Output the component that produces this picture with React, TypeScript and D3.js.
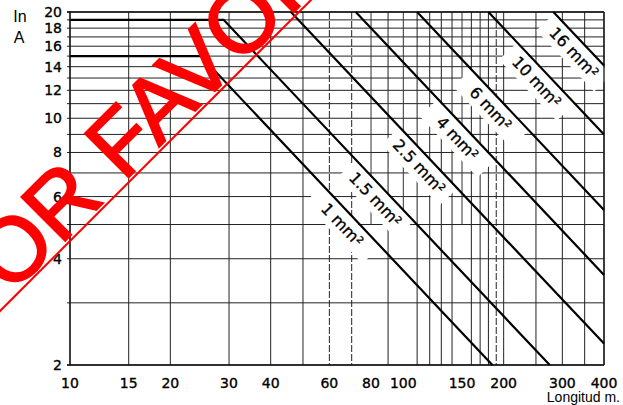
import React from "react";
import * as d3 from "d3";

const W = 623;
const H = 405;

// Axis ticks and grid
const currentTicks = [2, 4, 6, 8, 10, 12, 14, 16, 18, 20];
const currentGrid = [2, 3, 4, 5, 6, 7, 8, 9, 10, 11, 12, 13, 14, 15, 16, 17, 18, 19, 20];
const lengthTicks = [10, 15, 20, 30, 40, 60, 80, 100, 150, 200, 300, 400];
const lengthGrid = [10, 15, 20, 30, 40, 50, 60, 70, 90, 110, 120, 130, 140, 160, 170, 180, 190, 200, 250, 300, 350, 400];
const lengthGridDashed = [60, 70, 190];
const lengthGridUpper = [80, 100, 150];

// Cable sections (mm²) and their limit lines (length in m, current in A)
const sections = ["1", "1.5", "2.5", "4", "6", "10", "16"];
const sectionLengths = [
  [10, 24.7, 185],
  [10, 28.9, 275],
  [46, 400],
  [72, 400],
  [110, 400],
  [180, 400],
  [282, 400],
];
const sectionCurrents = [
  [15, 15, 2],
  [19, 19, 2],
  [20, 2.3],
  [20, 3.6],
  [20, 5.5],
  [20, 9],
  [20, 14.1],
];
// Length (m) along each line where its label sits
const labelAt = [70, 88, 119, 155, 195, 268, 347];

const x = d3.scaleLog().domain([10, 400]).range([70, 604]);
const y = d3.scaleLog().domain([2, 20]).range([365, 12]);

const tickFont = "DejaVu Sans, Verdana, sans-serif";

function pointOnLine(i: number, L: number) {
  const ls = sectionLengths[i];
  const cs = sectionCurrents[i];
  const n = ls.length;
  const L1 = ls[n - 2], L2 = ls[n - 1];
  const I1 = cs[n - 2], I2 = cs[n - 1];
  const t = Math.log(L / L1) / Math.log(L2 / L1);
  const I = Math.exp(Math.log(I1) + t * Math.log(I2 / I1));
  const px = x(L), py = y(I);
  const dx = x(L2) - x(L1);
  const dy = y(I2) - y(I1);
  const len = Math.hypot(dx, dy);
  return { px, py, ux: dx / len, uy: dy / len };
}

export default function App() {
  const line = d3
    .line<[number, number]>()
    .x((d) => x(d[0]))
    .y((d) => y(d[1]));

  const labels = sections.map((s, i) => {
    const { px, py, ux, uy } = pointOnLine(i, labelAt[i]);
    const off = 13;
    const cx = px - uy * off;
    const cy = py + ux * off;
    const ang = (Math.atan2(uy, ux) * 180) / Math.PI;
    return { s, cx, cy, ang };
  });

  return (
    <svg
      width={W}
      height={H}
      viewBox={`0 0 ${W} ${H}`}
      style={{ position: "absolute", left: 0, top: 0, background: "#fff", display: "block" }}
    >
      <rect width={W} height={H} fill="#fff" />

      {/* horizontal grid */}
      {currentGrid.map((v) => (
        <line key={"h" + v} x1={67} x2={x(400)} y1={y(v)} y2={y(v)} stroke="#222" strokeWidth={1} />
      ))}

      {/* vertical grid */}
      {lengthGrid.map((v) => (
        <line
          key={"v" + v}
          x1={x(v)}
          x2={x(v)}
          y1={y(20)}
          y2={y(2)}
          stroke="#222"
          strokeWidth={1}
          strokeDasharray={lengthGridDashed.includes(v) ? "7 2" : undefined}
        />
      ))}
      {lengthGridUpper.map((v) => (
        <line key={"vu" + v} x1={x(v)} x2={x(v)} y1={y(20)} y2={y(5)} stroke="#333" strokeWidth={1} />
      ))}

      {/* label halos */}
      {labels.map((l) => (
        <rect
          key={"halo" + l.s}
          x={-42}
          y={-12}
          width={84}
          height={24}
          fill="#fff"
          transform={`translate(${l.cx},${l.cy}) rotate(${l.ang})`}
        />
      ))}

      {/* axes frame */}
      <line x1={x(10)} x2={x(10)} y1={y(20)} y2={y(2)} stroke="#111" strokeWidth={1.3} />
      <line x1={x(400)} x2={x(400)} y1={y(20)} y2={y(2)} stroke="#111" strokeWidth={1.3} />
      <line x1={67} x2={x(400)} y1={y(2)} y2={y(2)} stroke="#111" strokeWidth={1.5} />
      <line x1={67} x2={x(400)} y1={y(20)} y2={y(20)} stroke="#111" strokeWidth={1.3} />

      {/* section lines */}
      {sections.map((s, i) => (
        <path
          key={"c" + s}
          d={line(sectionLengths[i].map((L, j) => [L, sectionCurrents[i][j]] as [number, number])) || ""}
          fill="none"
          stroke="#000"
          strokeWidth={2.2}
        />
      ))}

      {/* section labels */}
      {labels.map((l) => (
        <text
          key={"t" + l.s}
          transform={`translate(${l.cx},${l.cy}) rotate(${l.ang})`}
          textAnchor="middle"
          dominantBaseline="central"
          fontFamily={tickFont}
          fontSize={16}
          fill="#000"
          stroke="#000"
          strokeWidth={0.3}
        >
          {l.s} mm²
        </text>
      ))}

      {/* y tick labels */}
      {currentTicks.map((v) => (
        <text
          key={"yt" + v}
          x={62}
          y={y(v)}
          textAnchor="end"
          dominantBaseline="central"
          fontFamily={tickFont}
          fontSize={14}
          fill="#000"
          stroke="#000"
          strokeWidth={0.35}
        >
          {v}
        </text>
      ))}

      {/* x tick labels */}
      {lengthTicks.map((v) => (
        <text
          key={"xt" + v}
          x={x(v)}
          y={388}
          textAnchor="middle"
          fontFamily={tickFont}
          fontSize={14}
          fill="#000"
          stroke="#000"
          strokeWidth={0.35}
        >
          {v}
        </text>
      ))}

      <text x={20} y={22} textAnchor="middle" fontFamily="Liberation Sans, Arial, sans-serif" fontSize={16}>
        In
      </text>
      <text x={19} y={43} textAnchor="middle" fontFamily="Liberation Sans, Arial, sans-serif" fontSize={16}>
        A
      </text>
      <text
        x={620}
        y={402}
        textAnchor="end"
        fontFamily="Liberation Sans Narrow, Arial Narrow, sans-serif"
        fontStretch="condensed"
        fontSize={14}
      >
        Longitud m.
      </text>

      {/* stamp */}
      <g fill="#ff0000">
        <line x1={-5} y1={316} x2={316} y2={-5} stroke="#ff0000" strokeWidth={2} />
        <text
          transform="translate(-32,338) rotate(-45)"
          fontFamily="Liberation Sans, Arial, sans-serif"
          fontSize={90}
          stroke="#ff0000"
          strokeWidth={2}
        >
          POR FAVOR
        </text>
      </g>
    </svg>
  );
}
